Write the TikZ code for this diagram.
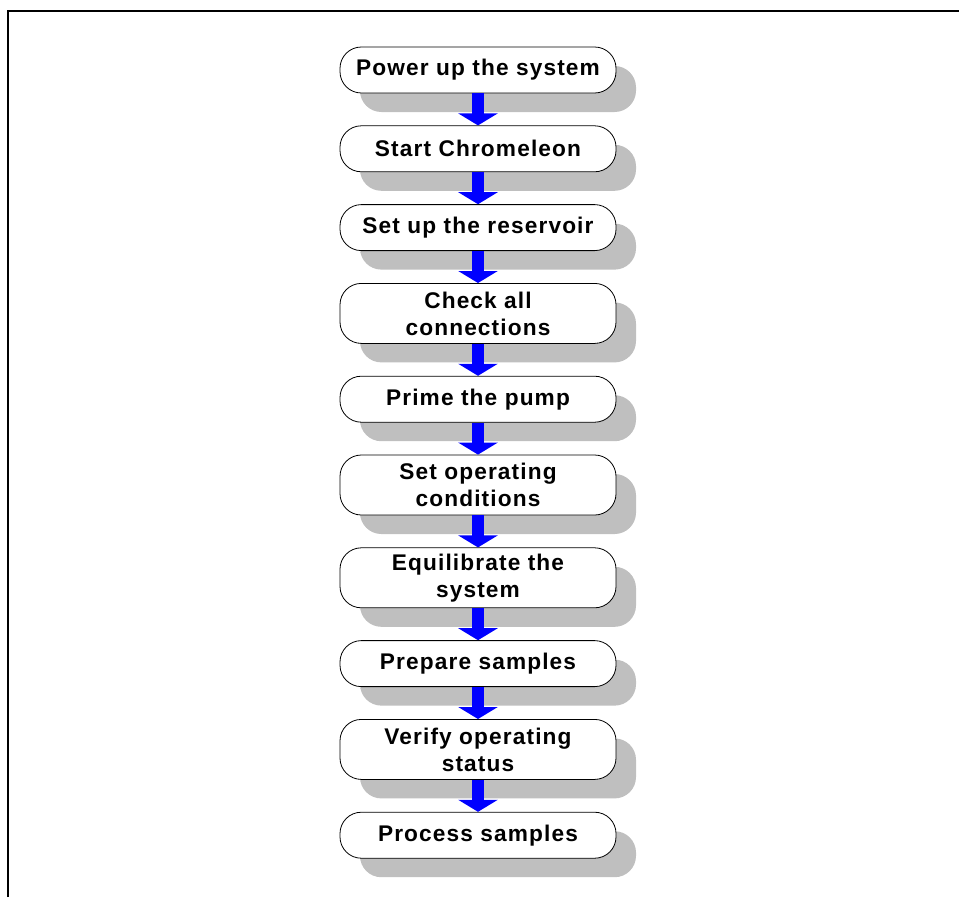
\documentclass[tikz,border=0pt]{standalone}
\usepackage{fontspec}
\setmainfont{Liberation Sans}
\newfontfamily\stepfont{Liberation Sans}[LetterSpace=5]
\usetikzlibrary{arrows.meta, positioning, shadows}
\tikzset{
  stepbox/.style={rectangle, rounded corners=16pt, minimum width=207pt, minimum height=34.5pt, inner sep=0pt, align=center, draw=black, line width=0.6pt, fill=white, font=\stepfont\bfseries\fontsize{17pt}{20.25pt}\selectfont, drop shadow={shadow xshift=15pt, shadow yshift=-14.25pt, fill=gray!50, opacity=1}},
  tallbox/.style={stepbox, minimum height=45pt},
  flowarrow/.style={-{Triangle[width=29.25pt, length=9pt]}, line width=9pt, blue},
}

\begin{document}
\begin{tikzpicture}[x=0.75pt, y=0.75pt, node distance=24pt]
\useasboundingbox (0,0) rectangle (959,-897);
\draw[line width=1.7pt] (8,-897) -- (8,-11) -- (959,-11);

\node[stepbox] (power) at (478,-70) {Power up the system};
\node[stepbox, below=of power] (chromeleon) {Start Chromeleon};
\node[stepbox, below=of chromeleon] (reservoir) {Set up the reservoir};
\node[tallbox, below=of reservoir] (connections) {Check all\\connections};
\node[stepbox, below=of connections] (prime) {Prime the pump};
\node[tallbox, below=of prime] (conditions) {Set operating\\conditions};
\node[tallbox, below=of conditions] (equil) {Equilibrate the\\system};
\node[stepbox, below=of equil] (prepare) {Prepare samples};
\node[tallbox, below=of prepare] (verify) {Verify operating\\status};
\node[stepbox, below=of verify] (process) {Process samples};

\draw[flowarrow] (power) -- (chromeleon);
\draw[flowarrow] (chromeleon) -- (reservoir);
\draw[flowarrow] (reservoir) -- (connections);
\draw[flowarrow] (connections) -- (prime);
\draw[flowarrow] (prime) -- (conditions);
\draw[flowarrow] (conditions) -- (equil);
\draw[flowarrow] (equil) -- (prepare);
\draw[flowarrow] (prepare) -- (verify);
\draw[flowarrow] (verify) -- (process);
\end{tikzpicture}
\end{document}
